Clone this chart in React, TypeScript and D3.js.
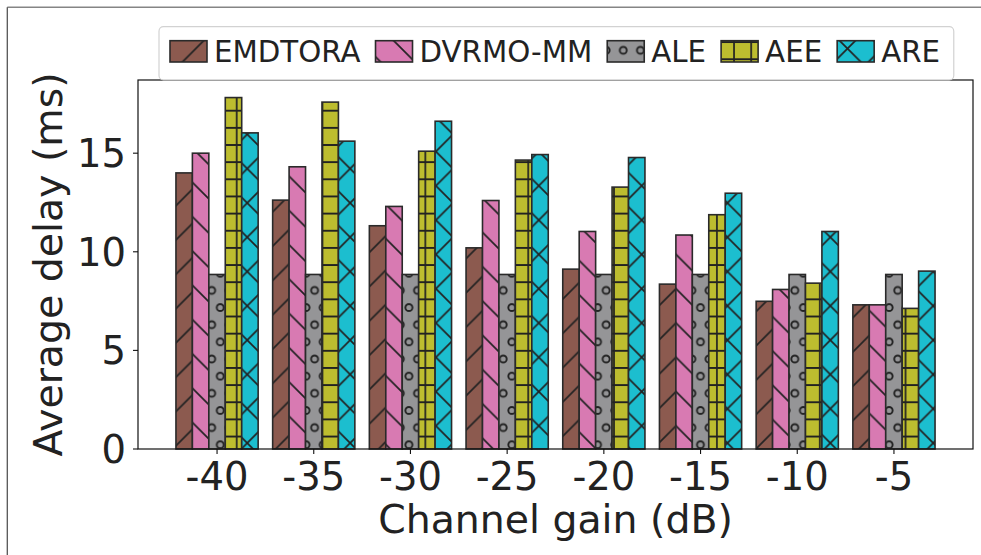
import React from 'react';
import * as d3 from 'd3';

// Channel gain groups and the average delay (ms) of each scheme
const categories = ['-40', '-35', '-30', '-25', '-20', '-15', '-10', '-5'];
const seriesNames = ['EMDTORA', 'DVRMO-MM', 'ALE', 'AEE', 'ARE'];
const emdtoraDelay = [14.0, 12.62, 11.32, 10.2, 9.12, 8.36, 7.49, 7.31];
const dvrmoDelay = [15.0, 14.31, 12.3, 12.6, 11.03, 10.85, 8.09, 7.31];
const aleDelay = [8.85, 8.85, 8.85, 8.85, 8.85, 8.85, 8.85, 8.85];
const aeeDelay = [17.82, 17.59, 15.1, 14.65, 13.28, 11.88, 8.41, 7.13];
const areDelay = [16.03, 15.61, 16.62, 14.93, 14.78, 12.97, 11.03, 9.02];
const yTicks = [0, 5, 10, 15];

const seriesValues = [emdtoraDelay, dvrmoDelay, aleDelay, aeeDelay, areDelay];
const seriesColors = ['#8c5a4f', '#d87ab2', '#959597', '#bdbd2f', '#1cbecf'];
// hatch layers drawn over each series' fill
const seriesHatches: string[][] = [['ne'], ['se'], ['circ'], ['hor', 'ver'], ['ne', 'se']];

const W = 981;
const H = 555;
const M = { left: 138, right: 973, top: 80, bottom: 449 };
const BAR_W = 0.17;
const FONT = 'DejaVu Sans, sans-serif';
const TEXT = '#222222';
const EDGE = '#2a2a2a';
const HATCH = '#222222';

const S = 17.15; // hatch spacing
const P = 2 * S; // diagonal hatch period

function measure(text: string, size: number): number {
  const c = document.createElement('canvas');
  const ctx = c.getContext('2d');
  if (!ctx) return text.length * size * 0.6;
  ctx.font = `${size}px "DejaVu Sans"`;
  return ctx.measureText(text).width;
}

function HatchDefs() {
  const st = { stroke: HATCH, strokeWidth: 1.7, fill: 'none' } as const;
  return (
    <defs>
      <pattern id="ne" patternUnits="userSpaceOnUse" width={P} height={P} x={4.3} y={0}>
        <path
          d={`M-1,${P + 1}L${P + 1},-1M-1,1L1,-1M${P - 1},${P + 1}L${P + 1},${P - 1}`}
          {...st}
        />
      </pattern>
      <pattern id="se" patternUnits="userSpaceOnUse" width={P} height={P} x={10} y={0}>
        <path
          d={`M-1,-1L${P + 1},${P + 1}M${P - 1},-1L${P + 1},1M-1,${P - 1}L1,${P + 1}`}
          {...st}
        />
      </pattern>
      <pattern id="hor" patternUnits="userSpaceOnUse" width={20} height={S} x={0} y={7.8}>
        <path d={`M-1,0H21M-1,${S}H21`} {...st} />
      </pattern>
      <pattern id="ver" patternUnits="userSpaceOnUse" width={S} height={20} x={13.75} y={0}>
        <path d={`M0,-1V21M${S},-1V21`} {...st} />
      </pattern>
      <pattern id="circ" patternUnits="userSpaceOnUse" width={S} height={P} x={5.9} y={16.0}>
        {[
          [0, 0],
          [S, 0],
          [0, P],
          [S, P],
          [S / 2, S],
        ].map(([cx, cy], k) => (
          <circle key={k} cx={cx} cy={cy} r={3.5} {...st} strokeWidth={1.9} />
        ))}
      </pattern>
    </defs>
  );
}

function HatchedRect({ x, y, w, h, color, hatches }: {
  x: number; y: number; w: number; h: number; color: string; hatches: string[];
}) {
  return (
    <g>
      <rect x={x} y={y} width={w} height={h} fill={color} />
      {hatches.map((hid) => (
        <rect key={hid} x={x} y={y} width={w} height={h} fill={`url(#${hid})`} />
      ))}
      <rect x={x} y={y} width={w} height={h} fill="none" stroke={EDGE} strokeWidth={1.6} />
    </g>
  );
}

export default function App() {
  const n = categories.length;
  const lo = -2.5 * BAR_W;
  const hi = n - 1 + 2.5 * BAR_W;
  const pad = (hi - lo) * 0.05;
  const x = d3.scaleLinear().domain([lo - pad, hi + pad]).range([M.left, M.right]);
  const yMax = (d3.max(seriesValues.flat()) ?? 1) * 1.05;
  const y = d3.scaleLinear().domain([0, yMax]).range([M.bottom, M.top]);
  const bw = x(BAR_W) - x(0);

  // legend layout
  const legendFont = 29.3;
  const patchW = 37;
  const patchH = 21.3;
  const legendItems: { name: string; px: number; tx: number; color: string; hatches: string[] }[] = [];
  let cursor = 170;
  seriesNames.forEach((name, j) => {
    const tw = measure(name, legendFont);
    legendItems.push({ name, px: cursor, tx: cursor + 44, color: seriesColors[j], hatches: seriesHatches[j] });
    cursor = cursor + 44 + tw + 15;
  });
  const legendRight = cursor - 15 + 13.7;

  return (
    <svg
      width={W}
      height={H}
      viewBox={`0 0 ${W} ${H}`}
      style={{ position: 'absolute', left: 0, top: 0, background: '#fff' }}
      fontFamily={FONT}
    >
      <HatchDefs />
      <rect x={0} y={0} width={W} height={H} fill="#fff" />
      {/* outer frame */}
      <line x1={7.3} y1={7.3} x2={W} y2={7.3} stroke="#858585" strokeWidth={1.5} />
      <line x1={7.3} y1={7.3} x2={7.3} y2={H} stroke="#555" strokeWidth={1.3} />

      {/* bars */}
      {seriesValues.map((vals, j) =>
        vals.map((v, i) => {
          const cx = x(i + (j - 2) * BAR_W);
          return (
            <HatchedRect
              key={`${j}-${i}`}
              x={cx - bw / 2}
              y={y(v)}
              w={bw}
              h={y(0) - y(v)}
              color={seriesColors[j]}
              hatches={seriesHatches[j]}
            />
          );
        })
      )}

      {/* axes frame */}
      <rect
        x={M.left}
        y={M.top}
        width={M.right - M.left}
        height={M.bottom - M.top}
        fill="none"
        stroke="#111"
        strokeWidth={1.2}
      />

      {/* y ticks */}
      {yTicks.map((t) => (
        <g key={t}>
          <line x1={M.left - 5} x2={M.left} y1={y(t)} y2={y(t)} stroke="#111" strokeWidth={1.1} />
          <text x={M.left - 12} y={y(t)} dy="0.36em" textAnchor="end" fontSize={38.5} fill={TEXT}>
            {t}
          </text>
        </g>
      ))}

      {/* x ticks */}
      {categories.map((c, i) => (
        <g key={c}>
          <line x1={x(i)} x2={x(i)} y1={M.bottom} y2={M.bottom + 5} stroke="#111" strokeWidth={1.1} />
          <text x={x(i)} y={490} textAnchor="middle" fontSize={38.5} fill={TEXT}>
            {c}
          </text>
        </g>
      ))}

      {/* axis titles */}
      <text x={(M.left + M.right) / 2} y={533} textAnchor="middle" fontSize={39.4} fill={TEXT}>
        Channel gain (dB)
      </text>
      <text
        transform={`translate(62,${(M.top + M.bottom) / 2}) rotate(-90)`}
        textAnchor="middle"
        fontSize={39.4}
        fill={TEXT}
      >
        Average delay (ms)
      </text>

      {/* legend */}
      <rect
        x={159}
        y={26.7}
        width={legendRight - 159}
        height={80 - 26.7}
        rx={4.5}
        fill="#fff"
        fillOpacity={0.85}
        stroke="#d2d2d2"
        strokeWidth={1.2}
      />
      {legendItems.map((it) => (
        <g key={it.name}>
          <HatchedRect x={it.px} y={40.7} w={patchW} h={patchH} color={it.color} hatches={it.hatches} />
          <text x={it.tx} y={62} fontSize={legendFont} fill={TEXT}>
            {it.name}
          </text>
        </g>
      ))}
    </svg>
  );
}
